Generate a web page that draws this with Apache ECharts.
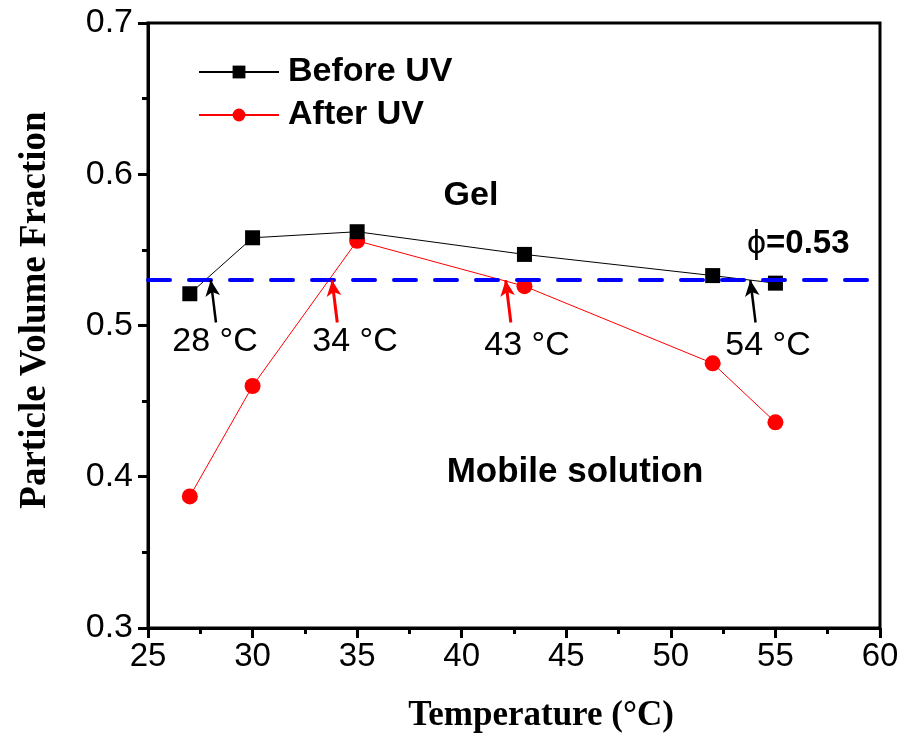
<!DOCTYPE html>
<html>
<head>
<meta charset="utf-8">
<script src="https://cdn.jsdelivr.net/npm/echarts@6/dist/echarts.min.js"></script>
<style>
  html, body { margin: 0; padding: 0; background: #fff; }
  #chart { width: 906px; height: 738px; }
</style>
</head>
<body>
<div id="chart"></div>
<script>
// Temperatures of the measured samples (°C)
const temperatures = [27, 30, 35, 43, 52, 55];
// Particle volume fraction before and after UV exposure
const beforeUV = [0.521, 0.558, 0.562, 0.547, 0.533, 0.528];
const afterUV = [0.387, 0.460, 0.556, 0.526, 0.475, 0.436];
// Gel / mobile solution boundary
const phiBoundary = 0.53;
// Transition temperatures where each curve crosses the boundary
const transitionLabels = ['28 °C', '34 °C', '43 °C', '54 °C'];
const transitionCrossings = [28.0, 33.8, 42.1, 53.8];
const transitionSeries = ['before', 'after', 'after', 'before'];
const xTicks = [25, 30, 35, 40, 45, 50, 55, 60];
const yTicks = [0.3, 0.4, 0.5, 0.6, 0.7];

const pair = (xs, ys) => xs.map((x, i) => [x, ys[i]]);

const sans = '"Liberation Sans", Arial, sans-serif';
const serif = '"Liberation Serif", "Times New Roman", serif';

// Arrows run from below the boundary up to the crossing point
const arrowLines = transitionCrossings.map((x, i) => {
  const isBefore = transitionSeries[i] === 'before';
  return [
    { coord: [x + 0.25, phiBoundary - 0.028], lineStyle: { color: isBefore ? '#000' : '#ff0000', width: isBefore ? 2.5 : 3, type: 'solid' } },
    { coord: [x, phiBoundary] }
  ];
});

const chart = echarts.init(document.getElementById('chart'), null, { renderer: 'canvas' });

chart.setOption({
  animation: false,
  backgroundColor: '#fff',
  grid: {
    left: 148, right: 26, top: 23, bottom: 110,
    containLabel: false, outerBoundsMode: 'none',
    show: true, borderColor: '#000', borderWidth: 3, backgroundColor: 'transparent'
  },
  legend: {
    orient: 'vertical',
    left: 198, top: 55, padding: 0,
    itemWidth: 80, itemHeight: 16, itemGap: 9,
    textStyle: { fontFamily: sans, fontWeight: 'bold', fontSize: 34, color: '#000', padding: [0, 0, 0, 4] },
    data: ['Before UV', 'After UV']
  },
  xAxis: {
    type: 'value', min: xTicks[0], max: xTicks[xTicks.length - 1], interval: 5,
    axisLine: { lineStyle: { color: '#000', width: 3 } },
    axisTick: { inside: false, length: 10, lineStyle: { width: 3, color: '#000' } },
    minorTick: { show: true, splitNumber: 2, length: 6, lineStyle: { width: 3, color: '#000' } },
    axisLabel: { fontFamily: sans, fontSize: 33, color: '#000', margin: 12 },
    splitLine: { show: false }
  },
  yAxis: {
    type: 'value', min: yTicks[0], max: yTicks[yTicks.length - 1], interval: 0.1,
    axisLine: { show: true, lineStyle: { color: '#000', width: 3 } },
    axisTick: { show: true, inside: false, length: 10, lineStyle: { width: 3, color: '#000' } },
    minorTick: { show: true, splitNumber: 2, length: 6, lineStyle: { width: 3, color: '#000' } },
    axisLabel: { fontFamily: sans, fontSize: 34, color: '#000', margin: 15, formatter: v => v.toFixed(1) },
    splitLine: { show: false }
  },
  series: [
    {
      name: 'Before UV', type: 'line', data: pair(temperatures, beforeUV),
      symbol: 'rect', symbolSize: 15,
      itemStyle: { color: '#000' },
      lineStyle: { color: '#000', width: 1 },
      z: 4,
      markLine: {
        silent: true, symbol: 'none', label: { show: false },
        lineStyle: { color: '#0000ff', width: 4, type: [22, 19], cap: 'round' },
        data: [{ yAxis: phiBoundary }]
      }
    },
    {
      name: 'After UV', type: 'line', data: pair(temperatures, afterUV),
      symbol: 'circle', symbolSize: 16,
      itemStyle: { color: '#ff0000' },
      lineStyle: { color: '#ff0000', width: 1 },
      z: 3,
      markLine: {
        silent: true, symbol: ['none', 'arrow'], symbolSize: [11, 16], label: { show: false },
        data: arrowLines
      }
    }
  ],
  graphic: [
    // axis titles
    { type: 'text', x: 541, y: 716, style: { text: 'Temperature (°C)', font: 'bold 35px ' + serif, fill: '#000', align: 'center', verticalAlign: 'middle' } },
    { type: 'text', x: 35, y: 310, rotation: Math.PI / 2, style: { text: 'Particle Volume Fraction', font: 'bold 37px ' + serif, fill: '#000', align: 'center', verticalAlign: 'middle' } },
    // region annotations
    { type: 'text', x: 471, y: 196, style: { text: 'Gel', font: 'bold 34px ' + sans, fill: '#000', align: 'center', verticalAlign: 'middle' } },
    { type: 'text', x: 575, y: 472, style: { text: 'Mobile solution', font: 'bold 35px ' + sans, fill: '#000', align: 'center', verticalAlign: 'middle' } },
    {
      type: 'text', x: 747, y: 244,
      style: {
        text: '{p|ϕ}{v|=0.53}', align: 'left', verticalAlign: 'middle', fill: '#000',
        rich: {
          p: { fontFamily: sans, fontSize: 34, fontWeight: 'normal', fill: '#000' },
          v: { fontFamily: sans, fontSize: 33, fontWeight: 'bold', fill: '#000' }
        }
      }
    },
    // transition temperature labels
    { type: 'text', x: 215, y: 342, style: { text: transitionLabels[0], font: '34px ' + sans, fill: '#000', align: 'center', verticalAlign: 'middle' } },
    { type: 'text', x: 355, y: 342, style: { text: transitionLabels[1], font: '34px ' + sans, fill: '#000', align: 'center', verticalAlign: 'middle' } },
    { type: 'text', x: 527, y: 346, style: { text: transitionLabels[2], font: '34px ' + sans, fill: '#000', align: 'center', verticalAlign: 'middle' } },
    { type: 'text', x: 768, y: 346, style: { text: transitionLabels[3], font: '34px ' + sans, fill: '#000', align: 'center', verticalAlign: 'middle' } }
  ]
});
</script>
</body>
</html>
